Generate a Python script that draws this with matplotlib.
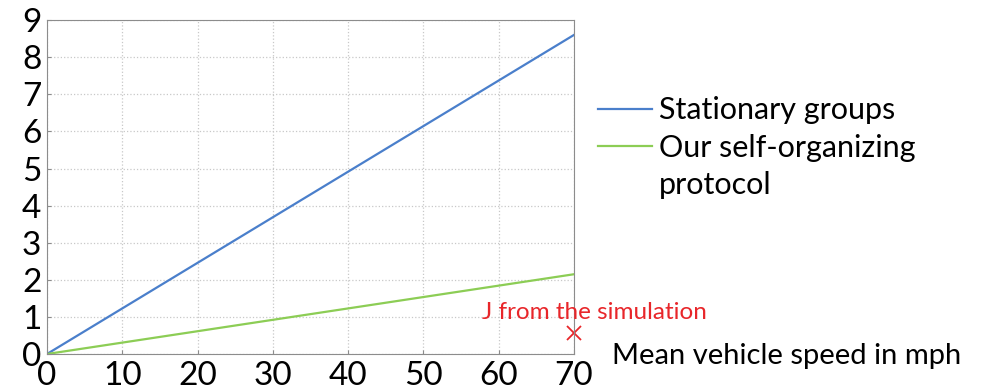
import matplotlib.pyplot as plt
from matplotlib.lines import Line2D

speed = [0, 70]
stationary = [0, 8.6]
self_org = [0, 2.15]
sim_speed = [70]
sim_value = [0.57]

plt.rcParams['font.family'] = ['Lato', 'DejaVu Sans']

fig = plt.figure(figsize=(9.93, 3.91), dpi=100)
ax = fig.add_axes([0.0473, 0.0946, 0.5307, 0.854])

l1, = ax.plot(speed, stationary, color="#4a7fcb", lw=1.6)
l2, = ax.plot(speed, self_org, color="#8ccd55", lw=1.6)
ax.plot(sim_speed, sim_value, "x", color="#e8262a", ms=10, mew=1.3, clip_on=False)

ax.set_xlim(0, 70)
ax.set_ylim(0, 9)
ax.set_xticks(range(0, 71, 10))
ax.set_yticks(range(0, 10))
ax.grid(True, color="#c8c8c8", linestyle=":", lw=0.9)
for s in ax.spines.values():
    s.set_color("#8c8c8c")
ax.tick_params(direction="in", length=3, color="#8c8c8c", labelsize=24)
ax.tick_params(axis="x", pad=5)
ax.tick_params(axis="y", pad=4)

ax.text(72.7, 1.13, "J from the simulation", color="#e8262a", fontsize=17.5, ha="center", va="center")
fig.text(0.616, 0.09, "Mean vehicle speed in mph", fontsize=21, ha="left", va="center")

# label wraps onto a second row, handle stays on the first one
blank = Line2D([], [], color="none")
fig.legend(handles=[l1, l2, blank],
           labels=["Stationary groups", "Our self-organizing", "protocol"],
           loc="upper left", bbox_to_anchor=(0.59, 0.785),
           frameon=False, fontsize=22, handlelength=1.75, handletextpad=0.25,
           labelspacing=0.31, borderaxespad=0)

fig.savefig("out.png", dpi=100)
